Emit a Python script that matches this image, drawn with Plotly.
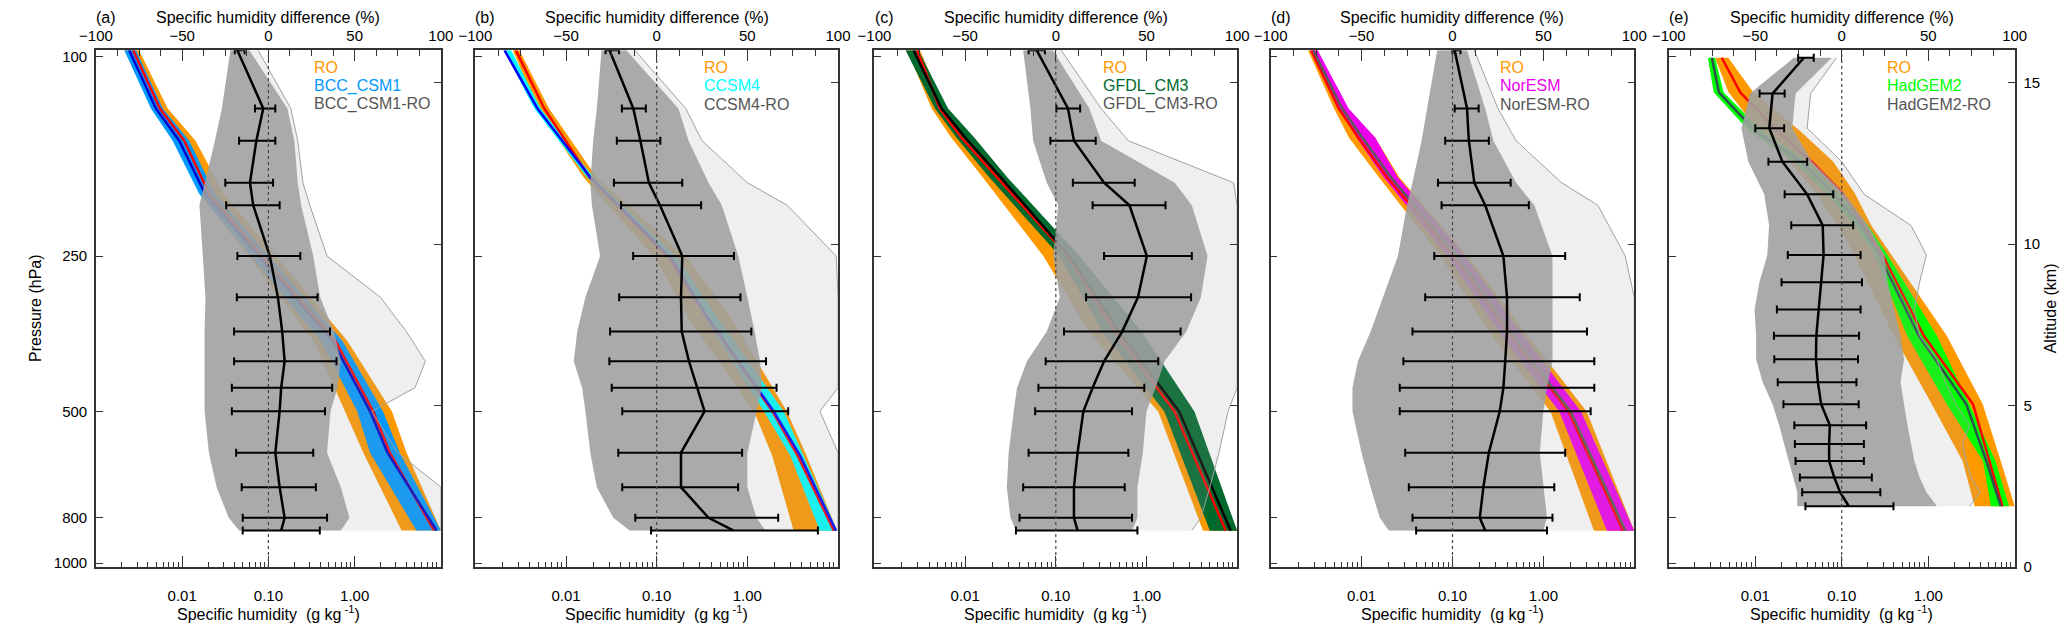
import plotly.graph_objects as go

# ---------------- values ----------------
# altitude (km) of the levels carrying the difference statistics
lev_std = [16.0, 14.2, 13.2, 11.9, 11.2, 9.63, 8.35, 7.29, 6.37, 5.55, 4.82, 3.54, 2.47, 1.52, 1.13]
e_lev = [15.77, 14.66, 13.59, 12.55, 11.54, 10.58, 9.66, 8.82, 7.97, 7.16, 6.43, 5.72, 5.04, 4.39,
         3.81, 3.28, 2.77, 2.31, 1.88]

# (a) BCC_CSM1
a_band_km = [16.0, 14.2, 13.2, 11.55, 7.0, 4.82, 3.54, 1.13]
a_ro_lo = [0.00213, 0.00458, 0.0081, 0.0162, 0.336, 0.78, 1.26, 3.5]
a_ro_hi = [0.00316, 0.0068, 0.0143, 0.0305, 0.824, 2.7, 4.0, 10.0]
a_mod_lo = [0.00213, 0.00434, 0.00775, 0.0158, 0.405, 1.07, 1.51, 5.2]
a_mod_hi = [0.00292, 0.00596, 0.01205, 0.0241, 0.722, 2.13, 3.33, 10.0]
a_ro_mean = [0.0027, 0.00551, 0.01056, 0.0206, 0.60, 1.64, 2.56, 8.3]
a_mod_mean = [0.00243, 0.00495, 0.00925, 0.0185, 0.555, 1.51, 2.4, 8.9]
a_gray_lo = [-22, -27, -31, -37, -40, -38, -36.5, -37, -37, -37, -37, -34.5, -30, -23, -17]
a_gray_hi = [-11, 11, 15, 17, 19, 26, 30, 38, 42, 40, 36, 34, 42, 47, 42]
a_out_hi = [-6, 13, 17, 20, 24, 34, 65, 80, 91, 85, 60, 75, 100, 100, 100]
a_mean = [-18, -3, -7, -10.7, -8.8, 0.8, 5.5, 8, 9.4, 7.4, 6.5, 4, 6.5, 9.4, 7.4]
a_err_lo = [-19.5, -7.8, -17, -25, -24.5, -18, -18.3, -19.9, -19.9, -21.2, -21.2, -18.7, -15.5, -14.9, -14.9]
a_err_hi = [-13.8, 4, 4, 2.7, 6.5, 18.5, 28.5, 35.7, 39.5, 37, 32.8, 26, 27.5, 34, 29.8]

# (b) CCSM4
b_band_km = [16.0, 14.2, 12.07, 9.53, 7.7, 4.81, 3.44, 1.12]
b_ro_lo = [0.00259, 0.00484, 0.0156, 0.098, 0.224, 1.19, 1.88, 3.24]
b_ro_hi = [0.00306, 0.00649, 0.0217, 0.224, 0.665, 2.74, 4.5, 9.8]
b_mod_lo = [0.00207, 0.00447, 0.017, 0.136, 0.34, 1.53, 2.98, 6.3]
b_mod_hi = [0.00248, 0.00525, 0.020, 0.175, 0.475, 2.53, 4.17, 9.8]
b_ro_mean = [0.0028, 0.00575, 0.0182, 0.14, 0.36, 1.9, 3.6, 9.0]
b_mod_mean = [0.0021, 0.00484, 0.0185, 0.148, 0.37, 1.96, 3.83, 9.5]
b_gray_lo = [-30.4, -33, -35, -36.6, -35.7, -31.2, -39.3, -43.8, -45.7, -41.1, -39.3, -36.6, -33, -23.9, -14.9]
b_gray_hi = [-16.8, 12, 17.6, 28.6, 35.9, 45, 50, 54, 57, 58, 55, 50, 50, 55, 60]
b_out_hi = [-12, 16, 25, 50, 72, 99, 100, 100, 100, 100, 90, 100, 100, 100, 100]
b_mean = [-26, -12.9, -9, -4.3, 1.8, 14.1, 13.4, 13.8, 17.8, 22.3, 26.4, 13.4, 13.4, 28.6, 42.2]
b_err_lo = [-28.2, -19.2, -22, -23.6, -19.7, -13, -20.7, -25.7, -26.1, -24.8, -19, -21.2, -19, -11.8, -3.1]
b_err_hi = [-20.8, -6, 2, 14.1, 24.5, 42.6, 46.2, 52.2, 60.3, 66.1, 72.5, 47.1, 44.9, 67, 88.9]

# (c) GFDL_CM3
c_band_km = [16.0, 14.2, 13.3, 12.07, 9.63, 7.28, 4.81, 1.12]
c_ro_lo = [0.00229, 0.00427, 0.0070, 0.0156, 0.0728, 0.234, 1.35, 4.2]
c_ro_hi = [0.00318, 0.00596, 0.0116, 0.0246, 0.13, 0.586, 3.1, 10.0]
c_mod_lo = [0.0022, 0.00464, 0.008, 0.0184, 0.11, 0.327, 1.58, 5.0]
c_mod_hi = [0.00305, 0.00648, 0.0126, 0.0291, 0.182, 0.89, 3.39, 10.0]
c_ro_mean = [0.00295, 0.00525, 0.00906, 0.0226, 0.136, 0.45, 2.05, 7.5]
c_mod_mean = [0.0027, 0.0055, 0.01, 0.0246, 0.14, 0.5, 2.3, 8.5]
c_gray_lo = [-18, -14, -12.5, -5, 1.3, -1.4, 2.2, -5, -15.9, -21.4, -23.2, -26, -27, -25, -22]
c_gray_hi = [-1.6, 18.5, 25, 65.6, 75, 83.7, 80, 72, 60, 55, 50, 48, 45, 45, 42]
c_out_hi = [3, 25, 40, 98, 100, 100, 100, 100, 100, 100, 95, 90, 85, 80, 75]
c_mean = [-10.5, 6.7, 10, 26.6, 40.6, 50.2, 45.3, 36.6, 26.6, 20.3, 15.2, 12, 10, 10, 12]
c_err_lo = [-15, 0.3, -3, 9.4, 20.3, 26.6, 16.7, 4.5, -5.6, -9.6, -11.4, -15, -18, -20, -22]
c_err_hi = [-6, 13.4, 22, 43.5, 60.5, 75, 74.6, 68.8, 56.5, 48.8, 42, 40, 38, 42, 45]

# (d) NorESM
d_band_km = [16.0, 14.2, 13.3, 12.07, 9.6, 7.3, 4.81, 1.12]
d_ro_lo = [0.00257, 0.00498, 0.00724, 0.0155, 0.075, 0.25, 1.2, 3.6]
d_ro_hi = [0.00329, 0.00667, 0.0141, 0.026, 0.15, 0.62, 3.0, 10.0]
d_mod_lo = [0.0027, 0.0056, 0.0088, 0.0175, 0.09, 0.32, 1.5, 5.0]
d_mod_hi = [0.00329, 0.0072, 0.0141, 0.025, 0.14, 0.55, 2.6, 10.0]
d_ro_mean = [0.0028, 0.0056, 0.0092, 0.019, 0.105, 0.4, 1.9, 7.5]
d_mod_mean = [0.00295, 0.0061, 0.0102, 0.021, 0.115, 0.43, 2.0, 8.0]
d_gray_lo = [-8.4, -14, -17, -22, -25, -30, -38, -45, -52, -55, -55, -50, -45, -40, -35]
d_gray_hi = [8, 18, 22.5, 35, 45, 55, 55, 55, 55, 52, 50, 48, 50, 52, 50]
d_out_hi = [12, 25, 35, 60, 80, 95, 100, 100, 100, 100, 100, 100, 100, 100, 100]
d_mean = [1.2, 8, 9, 12, 18, 28, 30, 30, 29, 28, 26, 20, 17, 15, 18]
d_err_lo = [0, 1.2, -4, -8, -6, -10, -15, -22, -27, -29, -29, -26, -24, -22, -20]
d_err_hi = [4.4, 14.4, 20, 32, 42, 62, 70, 74, 78, 78, 76, 62, 56, 55, 52]

# (e) HadGEM2
e_band_km = [15.77, 14.7, 13.5, 12.55, 11.6, 10.58, 9.66, 7.16, 5.04, 3.28, 1.88]
e_ro_lo = [0.00343, 0.0049, 0.011, 0.025, 0.05, 0.09, 0.14, 0.4, 1.1, 2.5, 3.44]
e_ro_hi = [0.00487, 0.0095, 0.033, 0.08, 0.14, 0.219, 0.37, 1.64, 4.27, 6.9, 10.0]
e_mod_lo = [0.00283, 0.0033, 0.0085, 0.028, 0.065, 0.14, 0.239, 0.57, 1.64, 4.3, 5.3]
e_mod_hi = [0.00343, 0.0043, 0.012, 0.04, 0.09, 0.2, 0.339, 1.26, 3.0, 6.0, 8.6]
e_ro_mean = [0.0041, 0.0067, 0.018, 0.045, 0.1, 0.18, 0.297, 0.89, 3.3, 5.1, 7.2]
e_mod_mean = [0.00315, 0.0038, 0.01, 0.034, 0.078, 0.17, 0.27, 0.78, 2.76, 4.7, 6.9]
e_gray_lo = [-27.7, -53, -58, -54, -44.8, -42, -43, -47.6, -50.4, -49.5, -49.5, -45.7, -40, -36.2,
             -33.3, -30.5, -27.7, -25.7, -25.7]
e_gray_hi = [-5.8, -26.7, -28.6, -17.2, 1.8, 15, 24.6, 26.5, 30.3, 34, 36, 34, 36, 38, 40, 42, 45, 49, 55]
e_out_hi = [-3, -18, -20, 0, 13, 40, 49, 45, 42, 45, 55, 60, 66, 74, 70, 72, 75, 80, 74]
e_mean = [-21.9, -40, -41.9, -34.3, -20, -11, -10.5, -11.9, -13.4, -14.7, -14.9, -13.8, -11.9, -6.9,
          -7.3, -7.3, -4.3, -0.9, 4.1]
e_err_lo = [-25.2, -47.5, -50, -42.4, -33, -29.2, -31.2, -34.8, -37.5, -39.2, -39, -37, -33.7, -27.4,
            -27.1, -26.7, -24.2, -22.9, -21]
e_err_hi = [-16.2, -33, -33.3, -20, -4.9, 6.6, 10.9, 11.7, 10.9, 10, 9.4, 8.5, 9.8, 14.1, 12.8, 12.8,
            17.4, 22.3, 29.9]

panel_tag = ['(a)', '(b)', '(c)', '(d)', '(e)']
model_name = ['BCC_CSM1', 'CCSM4', 'GFDL_CM3', 'NorESM', 'HadGEM2']

pres_labels = ['100', '250', '500', '800', '1000']
alt_labels = [0, 5, 10, 15]
q_labels = ['0.01', '0.10', '1.00']
q_major = [0.01, 0.1, 1.0]
diff_major = [-100, -50, 0, 50, 100]

# ---------------- look ----------------
W, H = 2067, 625
box_left = [72, 457, 862, 1264, 1668]
box_right = [422, 825, 1230, 1633, 2019]
box_top, box_bottom = 41, 566
pres_alt_km = [15.8, 9.63, 4.8, 1.52, 0.12]   # where the pressure labels sit on the km scale

ORANGE = '#FF9900'
model_band_color = ['#0099FF', '#00FFFF', '#006A2E', '#EE00EE', '#00FF00']
model_line_color = ['#0000CC', '#0000FF', '#000000', '#5A5A5A', '#2F5050']
AXC = '#333333'
FONT = 'Liberation Sans, Arial, Helvetica, sans-serif'

q_minor = [m * d for d in [0.001, 0.01, 0.1, 1.0] for m in range(2, 10)]
diff_minor = [v / 2 for v in range(-200, 201, 25) if v % 100 != 0]


def px(x):
    return x / W


def py(y):
    return 1 - y / H


def text(x, y, s, color='black', anchor='center', angle=0):
    return dict(xref='paper', yref='paper', x=px(x), y=py(y), text=s, xanchor=anchor,
                yanchor='middle', textangle=angle, showarrow=False,
                font=dict(family=FONT, size=16, color=color))


def add_band(fig, km, lo, hi, color, xa, ya):
    fig.add_trace(go.Scatter(x=list(lo) + list(hi)[::-1], y=list(km) + list(km)[::-1],
                             fill='toself', fillcolor=color, mode='lines', line=dict(width=0),
                             hoverinfo='skip', showlegend=False, xaxis=xa, yaxis=ya))


panels = [
    (a_band_km, a_ro_lo, a_ro_hi, a_mod_lo, a_mod_hi, a_ro_mean, a_mod_mean,
     lev_std, a_gray_lo, a_gray_hi, a_out_hi, a_mean, a_err_lo, a_err_hi),
    (b_band_km, b_ro_lo, b_ro_hi, b_mod_lo, b_mod_hi, b_ro_mean, b_mod_mean,
     lev_std, b_gray_lo, b_gray_hi, b_out_hi, b_mean, b_err_lo, b_err_hi),
    (c_band_km, c_ro_lo, c_ro_hi, c_mod_lo, c_mod_hi, c_ro_mean, c_mod_mean,
     lev_std, c_gray_lo, c_gray_hi, c_out_hi, c_mean, c_err_lo, c_err_hi),
    (d_band_km, d_ro_lo, d_ro_hi, d_mod_lo, d_mod_hi, d_ro_mean, d_mod_mean,
     lev_std, d_gray_lo, d_gray_hi, d_out_hi, d_mean, d_err_lo, d_err_hi),
    (e_band_km, e_ro_lo, e_ro_hi, e_mod_lo, e_mod_hi, e_ro_mean, e_mod_mean,
     e_lev, e_gray_lo, e_gray_hi, e_out_hi, e_mean, e_err_lo, e_err_hi),
]

fig = go.Figure()
axes = {}
shapes = []
annotations = []
ydom = [py(box_bottom), py(box_top)]

for i, p in enumerate(panels):
    (band_km, ro_lo, ro_hi, mod_lo, mod_hi, ro_mean, mod_mean,
     lev, g_lo, g_hi, g_out, d_mean, d_lo, d_hi) = p
    nb, nt = 2 * i + 1, 2 * i + 2
    sb = '' if nb == 1 else str(nb)
    xb, xt, yl, yr = 'x' + sb, 'x%d' % nt, 'y' + sb, 'y%d' % nt

    # humidity profiles (bottom log axis)
    add_band(fig, band_km, ro_lo, ro_hi, ORANGE, xb, yl)
    add_band(fig, band_km, mod_lo, mod_hi, model_band_color[i], xb, yl)
    fig.add_trace(go.Scatter(x=ro_mean, y=band_km, mode='lines', line=dict(color='#FF0000', width=2.5),
                             showlegend=False, xaxis=xb, yaxis=yl))
    fig.add_trace(go.Scatter(x=mod_mean, y=band_km, mode='lines',
                             line=dict(color=model_line_color[i], width=2.5),
                             showlegend=False, xaxis=xb, yaxis=yl))
    fig.add_trace(go.Scatter(x=[], y=[], showlegend=False, xaxis=xb, yaxis=yr))

    # model minus RO differences (top % axis)
    add_band(fig, lev, g_lo, g_out, 'rgba(160,160,160,0.17)', xt, yl)
    add_band(fig, lev, g_lo, g_hi, 'rgba(160,160,160,0.88)', xt, yl)
    fig.add_trace(go.Scatter(x=g_out, y=lev, mode='lines', line=dict(color='#A0A0A0', width=1),
                             showlegend=False, xaxis=xt, yaxis=yl))
    fig.add_trace(go.Scatter(
        x=d_mean, y=lev, mode='lines', line=dict(color='black', width=2.5), showlegend=False,
        error_x=dict(type='data', symmetric=False,
                     array=[h - m for h, m in zip(d_hi, d_mean)],
                     arrayminus=[m - l for m, l in zip(d_mean, d_lo)],
                     color='black', thickness=2, width=4),
        xaxis=xt, yaxis=yl))

    dom = [px(box_left[i]), px(box_right[i])]
    tick_font = dict(family=FONT, size=15, color='black')
    axes['xaxis' + sb] = dict(domain=dom, anchor=yl, type='log', range=[-3, 1], side='bottom',
                              showline=True, linecolor=AXC, linewidth=1.5, showgrid=False, zeroline=False,
                              ticks='inside', ticklen=11, tickwidth=1.2, tickcolor=AXC,
                              tickvals=q_major, ticktext=q_labels, tickfont=tick_font,
                              ticklabelstandoff=14,
                              minor=dict(tickvals=q_minor, ticks='inside', ticklen=5, tickwidth=1.2,
                                         tickcolor=AXC, showgrid=False))
    axes['xaxis%d' % nt] = dict(overlaying=xb, anchor=yl, side='top', range=[-100, 100],
                                showline=True, linecolor=AXC, linewidth=1.5, showgrid=False, zeroline=False,
                                ticks='inside', ticklen=11, tickwidth=1.2, tickcolor=AXC,
                                tickvals=diff_major, tickfont=tick_font, ticklabelstandoff=2,
                                minor=dict(tickvals=diff_minor, ticks='inside', ticklen=6, tickwidth=1.2,
                                           tickcolor=AXC, showgrid=False))
    axes['yaxis' + sb] = dict(domain=ydom, anchor=xb, range=[0, 16], showline=True, linecolor=AXC,
                              linewidth=1.5, showgrid=False, zeroline=False, ticks='inside', ticklen=7,
                              tickwidth=1.2, tickcolor=AXC, tickvals=pres_alt_km, ticktext=pres_labels,
                              showticklabels=(i == 0), tickfont=tick_font, ticklabelstandoff=4)
    axes['yaxis%d' % nt] = dict(overlaying=yl, anchor=xb, side='right', range=[0, 16], showline=True,
                                linecolor=AXC, linewidth=1.5, showgrid=False, zeroline=False,
                                ticks='inside', ticklen=7, tickwidth=1.2, tickcolor=AXC,
                                tickvals=alt_labels, showticklabels=(i == 4), tickfont=tick_font,
                                ticklabelstandoff=4)

    shapes.append(dict(type='line', xref=xt, x0=0, x1=0, yref=yl + ' domain', y0=0, y1=1,
                       line=dict(color='#444444', width=1.2, dash='dot'), layer='above'))

    cx = (box_left[i] + box_right[i]) / 2
    lx = box_left[i] + 0.625 * (box_right[i] - box_left[i])
    annotations += [
        text(box_left[i] - 2, 8, panel_tag[i], anchor='left'),
        text(cx, 8, 'Specific humidity difference (%)'),
        text(cx, 613, 'Specific humidity  (g kg<sup> -1</sup>)'),
        text(lx, 58, 'RO', ORANGE, 'left'),
        text(lx, 77, model_name[i], model_band_color[i], 'left'),
        text(lx, 96, model_name[i] + '-RO', '#555555', 'left'),
    ]

annotations += [
    text(10, 303, 'Pressure (hPa)', angle=-90),
    text(2055, 303, 'Altitude (km)', angle=-90),
]

fig.update_layout(width=W, height=H, autosize=False, margin=dict(l=0, r=0, t=0, b=0),
                  paper_bgcolor='white', plot_bgcolor='white', showlegend=False, hovermode=False,
                  shapes=shapes, annotations=annotations, font=dict(family=FONT), **axes)

fig.write_html('out.html')
